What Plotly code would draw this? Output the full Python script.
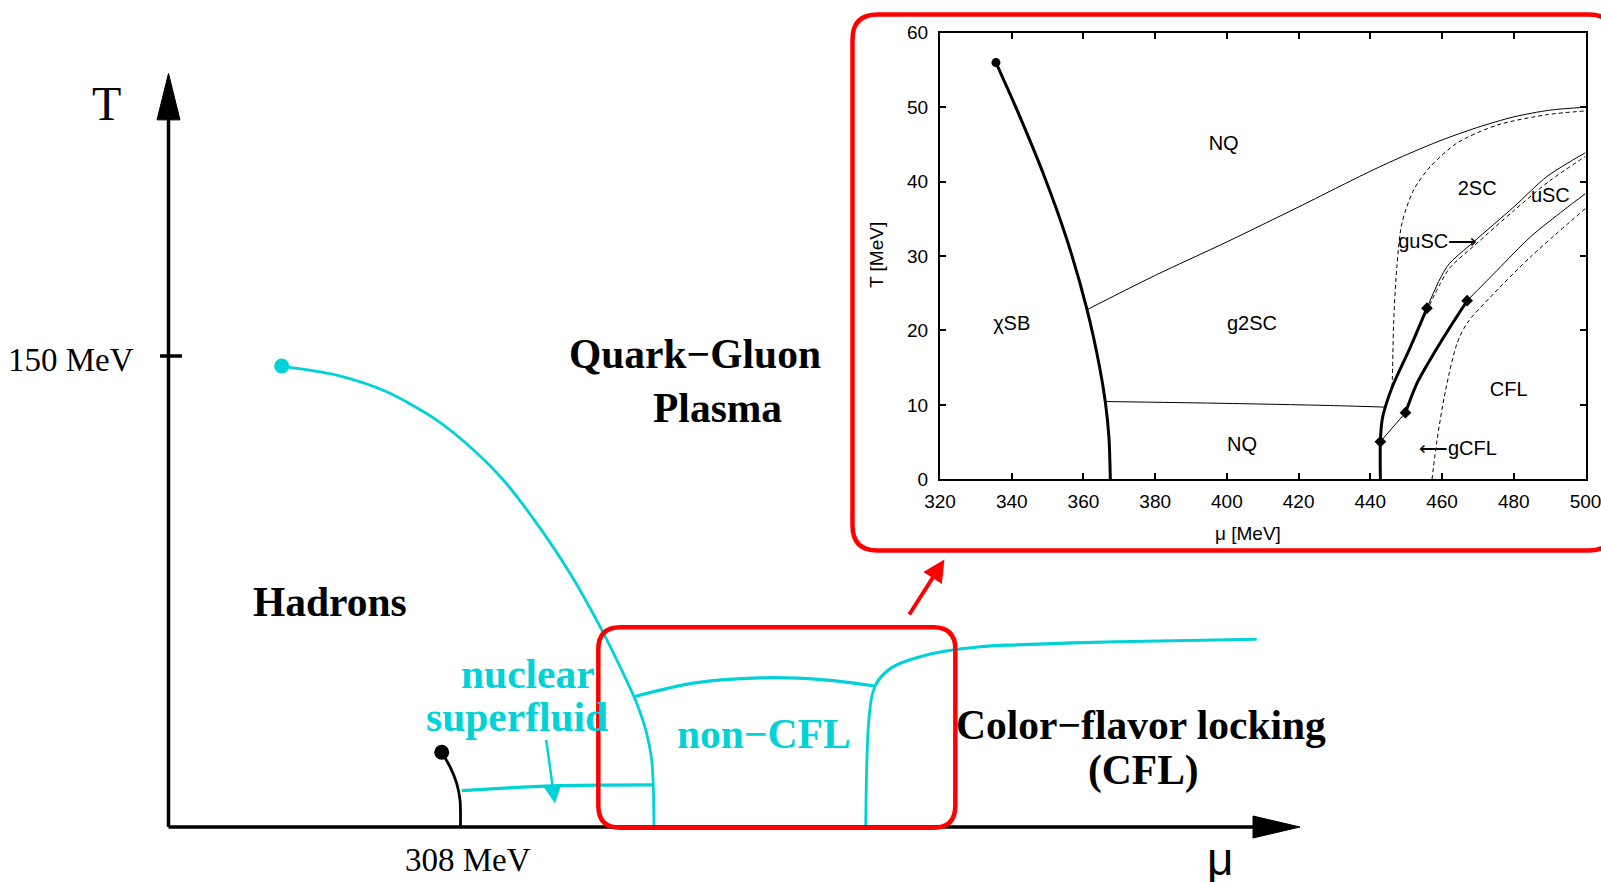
import plotly.graph_objects as go

# ---------------- main schematic (mu, T in MeV, schematic scale) ----------------
qgp_mu = [119.4, 128.2, 177.4, 230.2, 282.9, 318.0, 353.2, 388.4, 423.5, 455.2, 479.7, 493.9, 504.4, 509.7, 511.4, 512.1]
qgp_T = [146.8, 146.4, 143.9, 138.6, 129.6, 121.1, 110.5, 96.7, 80.8, 63.8, 48.9, 39.4, 29.8, 21.3, 12.8, 0.0]

nuc_mu = [288.2, 296.9, 304.0, 307.5, 308.0]
nuc_T = [23.8, 19.2, 13.9, 8.6, 0.0]

sf_mu = [309.3, 405.9, 511.3]
sf_T = [11.6, 13.1, 13.4]

ncfl_top_mu = [491.0, 553.6, 623.9, 694.3, 745.3]
ncfl_top_T = [41.5, 45.8, 47.5, 46.8, 44.9]

cfl_left_mu = [745.3, 741.8, 738.2, 736.5, 735.4]
cfl_left_T = [44.9, 41.5, 31.9, 19.2, 0.0]

cfl_top_mu = [745.3, 750.5, 764.6, 799.8, 856.0, 894.7, 1000.2, 1147.9]
cfl_top_T = [44.9, 47.4, 51.1, 54.8, 57.4, 58.0, 59.0, 59.8]

# ---------------- inset: NJL phase diagram ----------------
chi_mu = [335.6, 341.5, 349.1, 355.4, 361.0, 364.5, 366.1, 367.1, 367.5]
chi_T = [56.0, 49.6, 40.7, 32.2, 22.8, 15.1, 10.4, 5.7, 0.0]

nq_up_mu = [361.0, 380, 400, 420, 440, 450, 460, 470, 480, 490, 500]
nq_up_T = [22.8, 27.4, 31.9, 36.6, 41.4, 43.6, 45.6, 47.3, 48.7, 49.6, 50.0]

nq_low_mu = [366.1, 400, 430, 444.2]
nq_low_T = [10.45, 10.2, 9.9, 9.7]

d2sc_mu = [446.1, 446.3, 446.5, 447.4, 448.8, 452.1, 456.7, 464.2, 475.4, 489.3, 500]
d2sc_T = [12.4, 17.0, 21.0, 28.6, 34.4, 38.9, 42.0, 45.2, 47.6, 49.0, 49.5]

thickA_mu = [442.8, 442.8, 443.3, 444.2, 446.1, 451.2, 455.8]
thickA_T = [0.0, 5.05, 8.0, 9.76, 12.4, 17.8, 23.0]
thinA_mu = [455.8, 461.4, 468.8, 480, 489.3, 500]
thinA_T = [23.0, 28.6, 31.9, 36.6, 40.7, 43.9]
dguSC_mu = [456.5, 462.0, 469.2, 480, 490, 500]
dguSC_T = [23.4, 28.3, 31.5, 36.1, 40.1, 43.4]

link_mu = [442.8, 449.8]
link_T = [5.05, 8.95]

thickB_mu = [449.8, 453.0, 457.7, 462.3, 467.0]
thickB_T = [8.95, 12.9, 16.9, 20.5, 24.0]
thinB_mu = [467.0, 475.4, 484.7, 494.0, 500]
thinB_T = [24.0, 28.1, 32.6, 36.2, 38.4]

dgcfl_mu = [457.2, 458.6, 461.0, 464.2, 467.0, 473.5, 484.7, 500]
dgcfl_T = [0.0, 5.3, 12.0, 18.3, 21.0, 24.5, 29.9, 36.4]

diam_mu = [442.8, 449.8, 455.8, 467.0]
diam_T = [5.05, 8.95, 23.0, 24.0]

inset_labels = ["NQ", "χSB", "g2SC", "NQ", "2SC", "uSC", "guSC⟶", "⟵gCFL", "CFL"]
inset_lab_mu = [399.1, 340.0, 407.0, 404.2, 469.8, 490.2, 458.8, 464.4, 478.6]
inset_lab_T = [44.9, 20.7, 20.7, 4.5, 38.9, 38.0, 31.7, 3.9, 11.8]

xticks_in = [320, 340, 360, 380, 400, 420, 440, 460, 480, 500]
yticks_in = [0, 10, 20, 30, 40, 50, 60]

CYAN = "#00D2D8"
RED = "#FF0000"
SERIF = "Liberation Serif, Times New Roman, serif"
SANS = "Liberation Sans, Arial, Helvetica, sans-serif"

OFF = 0.0          # page body margin is removed below
W, H = 1601, 882

fig = go.Figure()

def main_line(mu, T, color, width, shape="spline"):
    fig.add_trace(go.Scatter(x=mu, y=T, mode="lines", line=dict(color=color, width=width, shape=shape, smoothing=0.8),
                             xaxis="x", yaxis="y", hoverinfo="skip"))

main_line(qgp_mu, qgp_T, CYAN, 2.8)
main_line(nuc_mu, nuc_T, "black", 2.8)
main_line(sf_mu, sf_T, CYAN, 3.2)
main_line(ncfl_top_mu, ncfl_top_T, CYAN, 3.2)
main_line(cfl_left_mu, cfl_left_T, CYAN, 2.8)
main_line(cfl_top_mu, cfl_top_T, CYAN, 3.2)
fig.add_trace(go.Scatter(x=[qgp_mu[0]], y=[qgp_T[0]], mode="markers",
                         marker=dict(color=CYAN, size=15), xaxis="x", yaxis="y", hoverinfo="skip"))
fig.add_trace(go.Scatter(x=[nuc_mu[0]], y=[nuc_T[0]], mode="markers",
                         marker=dict(color="black", size=15), xaxis="x", yaxis="y", hoverinfo="skip"))

def in_line(mu, T, width=1.0, dash="solid", shape="spline"):
    fig.add_trace(go.Scatter(x=mu, y=T, mode="lines",
                             line=dict(color="black", width=width, dash=dash, shape=shape, smoothing=0.8),
                             xaxis="x2", yaxis="y2", hoverinfo="skip"))

in_line(chi_mu, chi_T, 3)
in_line(nq_up_mu, nq_up_T, 1)
in_line(nq_low_mu, nq_low_T, 1)
in_line(d2sc_mu, d2sc_T, 1, "4px,3px")
in_line(thickA_mu, thickA_T, 3)
in_line(thinA_mu, thinA_T, 1)
in_line(dguSC_mu, dguSC_T, 1, "4px,3px")
in_line(link_mu, link_T, 1, shape="linear")
in_line(thickB_mu, thickB_T, 3)
in_line(thinB_mu, thinB_T, 1)
in_line(dgcfl_mu, dgcfl_T, 1, "4px,3px")
fig.add_trace(go.Scatter(x=[chi_mu[0]], y=[chi_T[0]], mode="markers", marker=dict(color="black", size=9),
                         xaxis="x2", yaxis="y2", hoverinfo="skip"))
fig.add_trace(go.Scatter(x=diam_mu, y=diam_T, mode="markers",
                         marker=dict(color="black", size=9, symbol="diamond"),
                         xaxis="x2", yaxis="y2", hoverinfo="skip"))
fig.add_trace(go.Scatter(x=inset_lab_mu, y=inset_lab_T, mode="text", text=inset_labels,
                         textfont=dict(family=SANS, size=20, color="black"),
                         xaxis="x2", yaxis="y2", hoverinfo="skip"))

shapes = []
# main axes (arrows)
shapes.append(dict(type="line", xref="x", yref="y", x0=0, y0=0, x1=0, y1=226, line=dict(color="black", width=3.5)))
shapes.append(dict(type="line", xref="x", yref="y", x0=0, y0=0, x1=1146, y1=0, line=dict(color="black", width=3.5)))
shapes.append(dict(type="path", xref="x", yref="y", path="M -12.1,225.2 L 0,240 L 12.1,225.2 Z",
                   fillcolor="black", line=dict(color="black", width=1)))
shapes.append(dict(type="path", xref="x", yref="y", path="M 1144,3.5 L 1193.6,0 L 1144,-3.5 Z",
                   fillcolor="black", line=dict(color="black", width=1)))
shapes.append(dict(type="line", xref="x", yref="y", x0=-9, y0=150, x1=14.2, y1=150, line=dict(color="black", width=3.5)))

def rrect(x0, y0, x1, y1, rx, ry):
    return (f"M {x0+rx},{y1} L {x1-rx},{y1} Q {x1},{y1} {x1},{y1-ry} "
            f"L {x1},{y0+ry} Q {x1},{y0} {x1-rx},{y0} L {x0+rx},{y0} Q {x0},{y0} {x0},{y0+ry} "
            f"L {x0},{y1-ry} Q {x0},{y1} {x0+rx},{y1} Z")

def px(xs):   # screen pixel x -> paper
    return (xs - OFF) / W

def py(ys):   # screen pixel y -> paper
    return 1 - (ys - OFF) / H

shapes.append(dict(type="path", xref="x", yref="y", layer="above",
                   path=rrect(453.4, -0.2, 830.0, 63.6, 23.2, 7.0), line=dict(color=RED, width=4.5)))
shapes.append(dict(type="path", xref="paper", yref="paper", layer="above",
                   path=rrect(px(852.5), py(550.5), px(1614), py(14.5), 25 / W, 25 / H),
                   line=dict(color=RED, width=4.5)))

annotations = []
def ann(text, x, y, size, color="black", bold=False, family=SERIF, xanchor="center"):
    t = f"<b>{text}</b>" if bold else text
    annotations.append(dict(text=t, x=x, y=y, xref="x", yref="y", showarrow=False,
                            font=dict(family=family, size=size, color=color), xanchor=xanchor, yanchor="middle"))

BIG = 41.5
ann("T", -64.9, 230.3, 48)
ann("150 MeV", -34.0, 148.7, 33, xanchor="right")
ann("308 MeV", 315.9, -10.5, 33)
ann("μ", 1109.2, -10.3, 46, family=SANS)
ann("Hadrons", 170.4, 71.7, BIG, bold=True)
ann("Quark−Gluon", 555.4, 150.6, BIG, bold=True)
ann("Plasma", 578.6, 133.4, BIG, bold=True)
ann("nuclear", 378.7, 48.6, BIG, color=CYAN, bold=True)
ann("superfluid", 368.1, 35.0, BIG, color=CYAN, bold=True)
ann("non−CFL", 628.2, 29.6, BIG, color=CYAN, bold=True)
ann("Color−flavor locking", 1025.6, 32.6, BIG, bold=True)
ann("(CFL)", 1028.0, 18.0, BIG, bold=True)

# arrows
annotations.append(dict(text="", x=407.7, y=7.5, ax=398.2, ay=28.2, xref="x", yref="y", axref="x", ayref="y",
                        showarrow=True, arrowhead=2, arrowsize=1.4, arrowwidth=2.5, arrowcolor=CYAN))
annotations.append(dict(text="", x=818.5, y=85.2, ax=780.4, ay=67.2, xref="x", yref="y", axref="x", ayref="y",
                        showarrow=True, arrowhead=2, arrowsize=1.1, arrowwidth=4, arrowcolor=RED))
# inset axis titles
annotations.append(dict(text="T [MeV]", x=px(876), y=py(255), xref="paper", yref="paper", showarrow=False,
                        xanchor="center", yanchor="middle",
                        textangle=-90, font=dict(family=SANS, size=19, color="black")))
annotations.append(dict(text="μ [MeV]", x=px(1248), y=py(533), xref="paper", yref="paper", showarrow=False,
                        xanchor="center", yanchor="middle",
                        font=dict(family=SANS, size=19, color="black")))

inset_axis = dict(showline=True, linewidth=2, linecolor="black", mirror="ticks", ticks="inside",
                  ticklen=6, tickwidth=1.5, tickcolor="black", showgrid=False, zeroline=False,
                  tickfont=dict(family=SANS, size=19, color="black"), fixedrange=True, automargin=False,
                  ticklabeloverflow="allow")

# main axes: mu=0 at screen x 168.5, 0.948 px/MeV ; T=0 at screen y 827, 3.14 px/MeV
KX, KY = 0.948, 3.14
x_rng = [(OFF - 168.5) / KX, (OFF + W - 168.5) / KX]
y_rng = [(827 - (OFF + H)) / KY, (827 - OFF) / KY]

fig.update_layout(
    width=W, height=H, autosize=False,
    margin=dict(l=0, r=0, t=0, b=0, pad=0, autoexpand=False),
    paper_bgcolor="white", plot_bgcolor="rgba(0,0,0,0)", showlegend=False,
    xaxis=dict(domain=[0, 1], range=x_rng, visible=False, fixedrange=True, automargin=False),
    yaxis=dict(domain=[0, 1], range=y_rng, visible=False, fixedrange=True, automargin=False),
    xaxis2=dict(domain=[px(940), px(1585.5)], range=[320, 500], anchor="y2", tickvals=xticks_in,
                ticklabelstandoff=4, **inset_axis),
    yaxis2=dict(domain=[py(479.3), py(32.8)], range=[0, 60], anchor="x2", tickvals=yticks_in,
                ticklabelstandoff=6, **inset_axis),
    shapes=shapes, annotations=annotations,
)

fig.write_html("out.html", config={"displayModeBar": False},
               post_script="document.body.style.margin='0px';document.body.style.overflow='hidden';")
